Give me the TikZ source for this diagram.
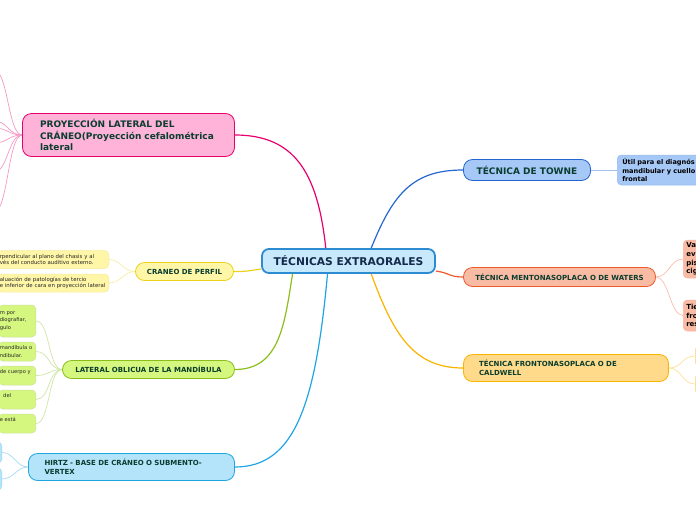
\documentclass[tikz,border=0pt]{standalone}
\usepackage{fontspec}
\setmainfont{DejaVu Sans}
\usetikzlibrary{calc,backgrounds}
\definecolor{mapNavy}{HTML}{14294B}
\definecolor{mapInk}{HTML}{0A3D2F}
\definecolor{ctrFill}{HTML}{C7E9FB}
\definecolor{ctrLine}{HTML}{2D8BD2}
\definecolor{pinkFill}{HTML}{FFB3D8}
\definecolor{pinkLine}{HTML}{E6006E}
\definecolor{yelFill}{HTML}{FFF6A8}
\definecolor{yelLine}{HTML}{EAD21E}
\definecolor{limeFill}{HTML}{D6F77F}
\definecolor{limeLine}{HTML}{8BBE1A}
\definecolor{skyFill}{HTML}{B3E4FA}
\definecolor{skyLine}{HTML}{1EA5E2}
\definecolor{blueFill}{HTML}{A6C8F7}
\definecolor{blueLine}{HTML}{2466D1}
\definecolor{salFill}{HTML}{F9BBA4}
\definecolor{salLine}{HTML}{F0592B}
\definecolor{gldFill}{HTML}{FEDA8A}
\definecolor{gldLine}{HTML}{F8B400}
\tikzset{
  hub/.style={draw=ctrLine,fill=ctrFill,line width=1.8pt,rounded corners=7pt,minimum width=173pt,minimum height=24pt,inner sep=0pt,text=mapNavy,font=\fontsize{10.7}{13}\selectfont\bfseries},
  topic/.style={draw=#1Line,fill=#1Fill,line width=.8pt,rounded corners=9pt,inner sep=0pt,text=mapInk,font=\fontsize{7}{8.7}\selectfont\bfseries},
  bigtopic/.style={font=\fontsize{9}{11.3}\selectfont\bfseries},
  leaf/.style={draw=#1Line!45,fill=#1Fill,line width=.5pt,rounded corners=4pt,inner ysep=0pt,text=black!85,align=left},
  link/.style={draw=#1Line,line width=1.2pt},
  twig/.style={draw=#1Line!40,line width=.7pt}
}
\begin{document}
\begin{tikzpicture}[x=1pt,y=-1pt]
\useasboundingbox (0,0) rectangle (696,520);
\clip (0,0) rectangle (696,520);
\node[hub] (ctr) at (348.5,261) {TÉCNICAS EXTRAORALES};
\node[topic=pink,bigtopic,minimum width=212pt,minimum height=43pt,text width=177pt,align=left] (proy) at (128.5,135) {PROYECCIÓN LATERAL DEL\\CRÁNEO(Proyección cefalométrica\\lateral};
\node[topic=yel,minimum width=98pt,minimum height=18pt] (perfil) at (184.5,271.5) {CRANEO DE PERFIL};
\node[topic=lime,minimum width=172pt,minimum height=18pt] (oblicua) at (148.5,369.5) {LATERAL OBLICUA DE LA MANDÍBULA};
\node[topic=sky,minimum width=206pt,minimum height=27pt,text width=174pt,align=left] (hirtz) at (131.5,467) {HIRTZ - BASE DE CRÁNEO O SUBMENTO-\\VERTEX};
\node[topic=blue,bigtopic,minimum width=127pt,minimum height=21pt] (towne) at (527,170) {TÉCNICA DE TOWNE};
\node[topic=sal,minimum width=192pt,minimum height=19pt] (waters) at (559.5,277) {TÉCNICA MENTONASOPLACA O DE WATERS};
\node[topic=gld,minimum width=205pt,minimum height=27pt,text width=174pt,align=left] (caldwell) at (566,368) {TÉCNICA FRONTONASOPLACA O DE\\CALDWELL};

\foreach \k/\yy in {1/70,2/121,3/128,4/143,5/172,6/212}
  \coordinate (pc\k) at (-6,\yy);
\tikzset{yleaf/.style={leaf=yel,anchor=east,text width=107pt,inner xsep=2pt,minimum height=18pt,font=\fontsize{5.4}{6.7}\selectfont}}
\node[yleaf] (yc1) at (109,259.5) {rpendicular al plano del chasis y al\\vés del conducto auditivo externo.};
\node[yleaf] (yc2) at (109,283) {aluación de patologías de tercio\\e inferior de cara en proyección lateral};
\foreach \k/\yy/\hh/\txt in {1/321/32/{m por\\diografiar,\\gulo},2/351.5/19/{mandíbula o\\ndibular.},3/375.5/19/{de cuerpo y\\\phantom{x}},4/399.5/19/{\ \ del\\\phantom{x}},5/423.5/19/{e está\\\phantom{x}}}
  \node[leaf=lime,anchor=east,text width=35pt,inner xsep=1pt,minimum height=\hh pt,font=\fontsize{5.2}{7.2}\selectfont] (gc\k) at (36,\yy) {\txt};
\node[leaf=sky,anchor=east,minimum width=30pt,minimum height=21pt] (hc1) at (2,452.5) {};
\node[leaf=sky,anchor=east,minimum width=30pt,minimum height=22pt] (hc2) at (2,479) {};
\node[leaf=blue,anchor=west,text width=110pt,inner xsep=5pt,minimum height=30pt,text=black,font=\fontsize{6.6}{8.5}\selectfont\bfseries] (tc) at (617,170) {Útil para el diagnós\\mandibular y cuello\\frontal};
\node[leaf=sal,anchor=west,text width=40pt,inner xsep=3pt,minimum height=38pt,text=black,font=\fontsize{7}{8.7}\selectfont\bfseries] (wc1) at (683,259) {Va\\ev\\pis\\cig};
\node[leaf=sal,anchor=west,text width=40pt,inner xsep=3pt,minimum height=31pt,text=black,font=\fontsize{7}{8.7}\selectfont\bfseries] (wc2) at (683,315.5) {Tie\\fro\\res};
\node[leaf=gld,anchor=west,minimum width=30pt,minimum height=20pt] (cc1) at (695,356) {};
\node[leaf=gld,anchor=west,minimum width=30pt,minimum height=20pt] (cc2) at (695,384) {};

\begin{scope}[on background layer]
\draw[link=pink] ($(ctr.north west)!.37!(ctr.north east)$) .. controls +(-8,-75) and +(60,0) .. (proy.east);
\draw[link=blue] ($(ctr.north west)!.63!(ctr.north east)$) .. controls +(22,-55) and +(-50,0) .. (towne.west);
\draw[link=yel] ($(ctr.west)+(0,8)$) .. controls +(-14,2) and +(14,0) .. (perfil.east);
\draw[link=sal] ($(ctr.east)+(0,10)$) .. controls +(14,2) and +(-14,0) .. (waters.west);
\draw[link=lime] ($(ctr.south west)!.18!(ctr.south east)$) .. controls +(-8,50) and +(45,0) .. (oblicua.east);
\draw[link=sky] ($(ctr.south west)!.38!(ctr.south east)$) .. controls +(-12,130) and +(60,0) .. (hirtz.east);
\draw[link=gld] ($(ctr.south west)!.63!(ctr.south east)$) .. controls +(22,60) and +(-50,0) .. (caldwell.west);
\foreach \k in {1,...,6}
  \draw[twig=pink] (proy.west) .. controls +(-14,0) and +(14,0) .. (pc\k);
\foreach \k in {1,2}
  \draw[twig=yel] (perfil.west) .. controls +(-12,0) and +(12,0) .. (yc\k.east);
\foreach \k in {1,...,5}
  \draw[twig=lime] (oblicua.west) .. controls +(-14,0) and +(14,0) .. (gc\k.east);
\foreach \k in {1,2}
  \draw[twig=sky] (hirtz.west) .. controls +(-12,0) and +(12,0) .. (hc\k.east);
\draw[twig=blue] (towne.east) -- (tc.west);
\foreach \k in {1,2}
  \draw[twig=sal] (waters.east) .. controls +(13,0) and +(-13,0) .. (wc\k.west);
\foreach \k in {1,2}
  \draw[twig=gld] (caldwell.east) .. controls +(13,0) and +(-13,0) .. (cc\k.west);
\end{scope}
\end{tikzpicture}
\end{document}
